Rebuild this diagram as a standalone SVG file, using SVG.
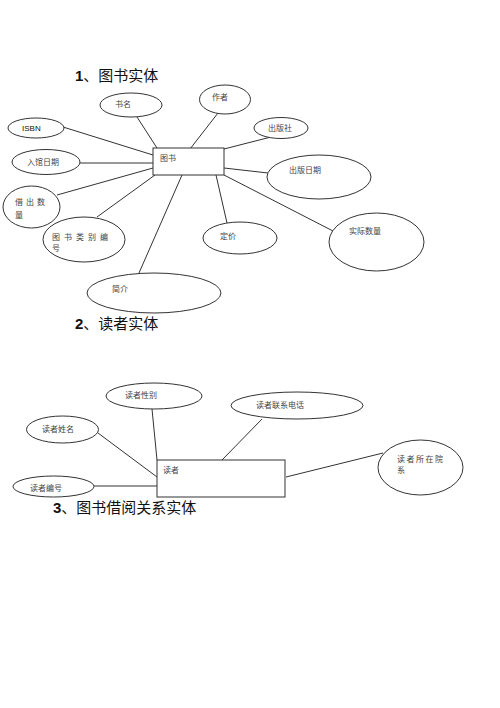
<svg xmlns="http://www.w3.org/2000/svg" width="500" height="708" viewBox="0 0 500 708">
<style>
.e{fill:#fff;stroke:#333;stroke-width:1}
.r{fill:#fff;stroke:#333;stroke-width:1}
.c line{stroke:#333;stroke-width:1}
.t{font-family:"Noto Sans CJK SC","Liberation Sans",sans-serif;font-size:8px;fill:#444}
.h{font-family:"Noto Sans CJK SC","Liberation Sans",sans-serif;font-size:15px;fill:#111}
.n{font-family:"Liberation Sans",sans-serif;font-weight:bold}
</style>
<rect width="500" height="708" fill="#fff"/>
<text class="h" x="75" y="81"><tspan class="n">1</tspan>、图书实体</text>
<text class="h" x="75" y="329"><tspan class="n">2</tspan>、读者实体</text>
<text class="h" x="53" y="513"><tspan class="n">3</tspan>、图书借阅关系实体</text>
<g class="c" id="connectors">
<line x1="157" y1="148" x2="137" y2="117"/>
<line x1="190" y1="149" x2="218" y2="113"/>
<line x1="153" y1="155" x2="63" y2="127"/>
<line x1="153" y1="163" x2="80" y2="163"/>
<line x1="153" y1="168" x2="57" y2="195"/>
<line x1="155" y1="175" x2="97" y2="217"/>
<line x1="182" y1="175" x2="139" y2="273"/>
<line x1="216" y1="175" x2="227" y2="223"/>
<line x1="224" y1="149" x2="271" y2="137"/>
<line x1="224" y1="168" x2="268" y2="173"/>
<line x1="224" y1="175" x2="333" y2="231"/>
<line x1="152" y1="409" x2="157" y2="460"/>
<line x1="262" y1="419" x2="222" y2="460"/>
<line x1="98" y1="433" x2="157" y2="477"/>
<line x1="94" y1="486" x2="157" y2="486"/>
<line x1="286" y1="477" x2="383" y2="453"/>
</g>
<g id="tushu"><rect class="r" x="153" y="148" width="71" height="27"/><text class="t" x="160" y="161">图书</text></g>
<g id="shuming"><ellipse class="e" cx="131" cy="105" rx="31" ry="12"/><text class="t" x="115" y="107">书名</text></g>
<g id="zuozhe"><ellipse class="e" cx="225" cy="99.5" rx="25.5" ry="14.5"/><text class="t" x="212" y="100">作者</text></g>
<g id="isbn"><ellipse class="e" cx="36" cy="128" rx="28" ry="10"/><text class="t" x="22" y="131" style="font-family:'Liberation Sans',sans-serif;fill:#111">ISBN</text></g>
<g id="ruguan"><ellipse class="e" cx="46" cy="162" rx="34" ry="12.5"/><text class="t" x="27" y="165">入馆日期</text></g>
<g id="chubanshe"><ellipse class="e" cx="281" cy="128" rx="27" ry="10.5"/><text class="t" x="268" y="131">出版社</text></g>
<g id="chubanriqi"><ellipse class="e" cx="319" cy="177" rx="52" ry="22"/><text class="t" x="289" y="173">出版日期</text></g>
<g id="shiji"><ellipse class="e" cx="376.5" cy="242" rx="47.5" ry="29"/><text class="t" x="349" y="234">实际数量</text></g>
<g id="dingjia"><ellipse class="e" cx="240" cy="238" rx="37" ry="16"/><text class="t" x="220" y="239">定价</text></g>
<g id="jiechu"><ellipse class="e" cx="31.5" cy="207" rx="28.5" ry="21"/><text class="t" x="15" y="205" letter-spacing="3">借出数</text><text class="t" x="15" y="218">量</text></g>
<g id="leibie"><ellipse class="e" cx="84" cy="239.5" rx="41" ry="22.5"/><text class="t" x="52" y="240" letter-spacing="4">图书类别编</text><text class="t" x="52" y="251">号</text></g>
<g id="jianjie"><ellipse class="e" cx="154" cy="293" rx="67" ry="20"/><text class="t" x="112" y="292">简介</text></g>
<g id="duzhe"><rect class="r" x="157" y="460" width="128" height="37"/><text class="t" x="163" y="473">读者</text></g>
<g id="xingbie"><ellipse class="e" cx="154" cy="396" rx="48" ry="13"/><text class="t" x="125" y="398">读者性别</text></g>
<g id="dianhua"><ellipse class="e" cx="297" cy="405.5" rx="66" ry="13.5"/><text class="t" x="256" y="408">读者联系电话</text></g>
<g id="xingming"><ellipse class="e" cx="62.5" cy="429.5" rx="36" ry="13.5"/><text class="t" x="42" y="432">读者姓名</text></g>
<g id="bianhao"><ellipse class="e" cx="53.5" cy="486.5" rx="40.5" ry="10.5"/><text class="t" x="30" y="491">读者编号</text></g>
<g id="yuanxi"><ellipse class="e" cx="420.5" cy="467.5" rx="42.5" ry="27.5"/><text class="t" x="397" y="462" letter-spacing="1.5">读者所在院</text><text class="t" x="397" y="473">系</text></g>
</svg>
